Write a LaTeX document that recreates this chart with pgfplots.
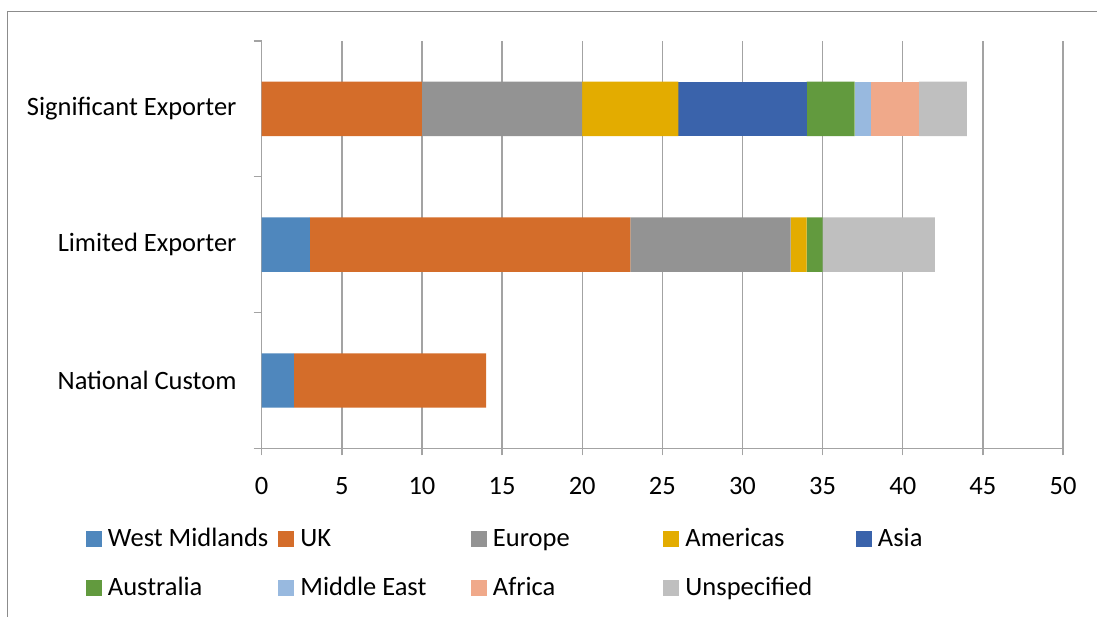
\documentclass[border=0pt]{standalone}
\usepackage{pgfplots}
\pgfplotsset{compat=1.18}
\usepackage{fontspec}
\setmainfont{Carlito}

\definecolor{cWM}{HTML}{4F87BD}
\definecolor{cUK}{HTML}{D46D2A}
\definecolor{cEU}{HTML}{939393}
\definecolor{cAM}{HTML}{E3AC00}
\definecolor{cAS}{HTML}{3A63AB}
\definecolor{cAU}{HTML}{629A3E}
\definecolor{cME}{HTML}{98B9DF}
\definecolor{cAF}{HTML}{F0A98A}
\definecolor{cUN}{HTML}{BFBFBF}
\definecolor{axisgray}{HTML}{A3A3A3}
\definecolor{framegray}{HTML}{8C8C8C}

% fixed-width legend entry with a small gap after the swatch
\newcommand{\lentry}[1]{\makebox[176.5bp][l]{\hspace*{6bp}#1}}

\begin{document}
\begin{tikzpicture}[x=1bp,y=1bp]
\useasboundingbox (0,0) rectangle (1097,617);
\draw[framegray, line width=1.2bp] (7.5,0) -- (7.5,605.5) -- (1097,605.5);
\begin{axis}[
  at={(261.7bp,168.7bp)}, anchor=south west,
  scale only axis, width=801.3bp, height=407.3bp,
  font=\fontsize{26.5bp}{31bp}\selectfont,
  /pgf/number format/assume math mode=true,
  xbar stacked, bar width=0.4,
  xmin=0, xmax=50, ymin=-0.5, ymax=2.5,
  xtick={0,5,...,50},
  ytick={0,1,2},
  yticklabels={National Custom, Limited Exporter, Significant Exporter},
  minor ytick={-0.5,0.5,1.5,2.5},
  axis lines=left, axis line style={-, axisgray, line width=1.4bp},
  tick align=outside,
  major tick length=7bp, minor tick length=8bp,
  every tick/.style={axisgray, line width=1.4bp},
  major y tick style={draw=none},
  xmajorgrids, grid style={axisgray, line width=1.4bp},
  xticklabel style={inner sep=0pt, anchor=north, yshift=-22bp},
  yticklabel style={inner sep=0pt, anchor=east, xshift=-18bp},
  legend columns=5,
  legend style={at={(-0.2193,-0.1981)}, anchor=north west, draw=none, fill=none,
    inner sep=0pt, outer sep=0pt, row sep=25bp, column sep=0pt,
    font=\fontsize{26.5bp}{31bp}\selectfont,
    cells={anchor=west},
    nodes={inner sep=0pt, outer sep=0pt, text height=18bp, text depth=6bp}},
  legend image code/.code={\fill[#1] (0bp,-6bp) rectangle (16bp,10bp);},
]
% categories: 0 = National Custom, 1 = Limited Exporter, 2 = Significant Exporter
\addplot[fill=cWM, draw=none] coordinates {(2,0) (3,1) (0,2)};
\addplot[fill=cUK, draw=none] coordinates {(12,0) (20,1) (10,2)};
\addplot[fill=cEU, draw=none] coordinates {(0,0) (10,1) (10,2)};
\addplot[fill=cAM, draw=none] coordinates {(0,0) (1,1) (6,2)};
\addplot[fill=cAS, draw=none] coordinates {(0,0) (0,1) (8,2)};
\addplot[fill=cAU, draw=none] coordinates {(0,0) (1,1) (3,2)};
\addplot[fill=cME, draw=none] coordinates {(0,0) (0,1) (1,2)};
\addplot[fill=cAF, draw=none] coordinates {(0,0) (0,1) (3,2)};
\addplot[fill=cUN, draw=none] coordinates {(0,0) (7,1) (3,2)};
\legend{\lentry{West Midlands}, \lentry{UK}, \lentry{Europe}, \lentry{Americas}, \lentry{Asia},
        \lentry{Australia}, \lentry{Middle East}, \lentry{Africa}, \lentry{Unspecified}}
\end{axis}
\end{tikzpicture}
\end{document}
